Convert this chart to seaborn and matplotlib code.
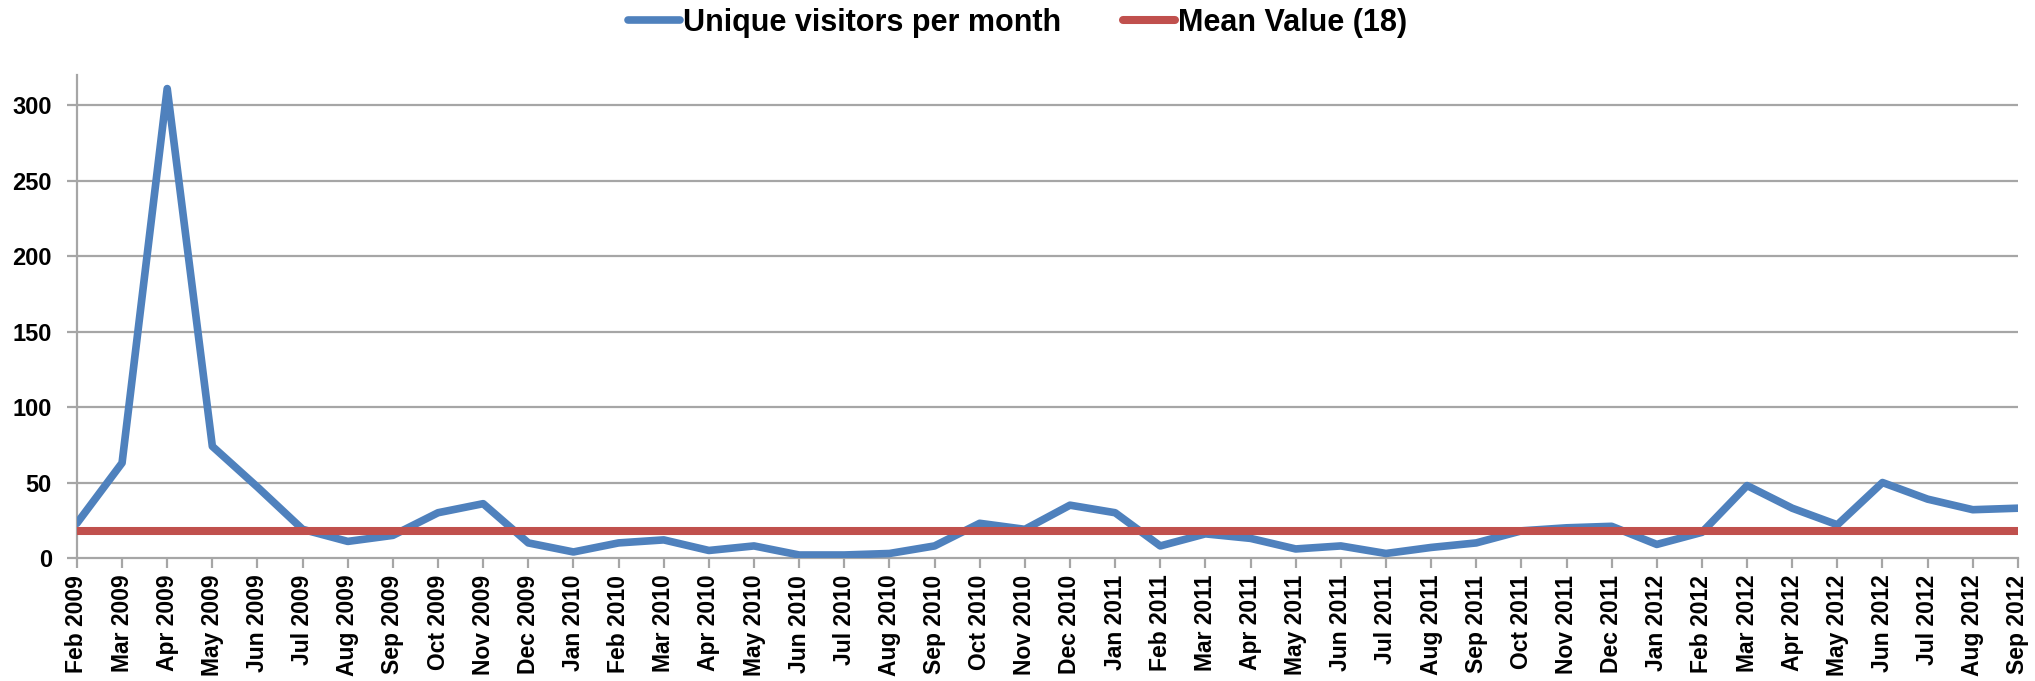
import pandas as pd
import matplotlib.pyplot as plt
import seaborn as sns

# Monthly data, Feb 2009 - Sep 2012
months = [
    "Feb 2009", "Mar 2009", "Apr 2009", "May 2009", "Jun 2009", "Jul 2009",
    "Aug 2009", "Sep 2009", "Oct 2009", "Nov 2009", "Dec 2009",
    "Jan 2010", "Feb 2010", "Mar 2010", "Apr 2010", "May 2010", "Jun 2010",
    "Jul 2010", "Aug 2010", "Sep 2010", "Oct 2010", "Nov 2010", "Dec 2010",
    "Jan 2011", "Feb 2011", "Mar 2011", "Apr 2011", "May 2011", "Jun 2011",
    "Jul 2011", "Aug 2011", "Sep 2011", "Oct 2011", "Nov 2011", "Dec 2011",
    "Jan 2012", "Feb 2012", "Mar 2012", "Apr 2012", "May 2012", "Jun 2012",
    "Jul 2012", "Aug 2012", "Sep 2012",
]
visitors = [
    23, 63, 311, 74, 47, 19, 11, 15, 30, 36, 10,
    4, 10, 12, 5, 8, 2, 2, 3, 8, 23, 19, 35,
    30, 8, 16, 13, 6, 8, 3, 7, 10, 18, 20, 21,
    9, 17, 48, 33, 22, 50, 39, 32, 33,
]
mean_value = 18
y_ticks = [0, 50, 100, 150, 200, 250, 300]

df = pd.DataFrame({"pos": range(len(months)), "month": months, "visitors": visitors})

sns.set_style("white")
plt.rcParams["font.family"] = ["Liberation Sans", "DejaVu Sans"]
plt.rcParams["text.color"] = "black"

fig = plt.figure(figsize=(20.35, 6.81), dpi=100)
ax = fig.add_axes([0.0378, 0.1806, 0.9538, 0.7093])

grid_col = "#A6A6A6"
sns.lineplot(data=df, x="pos", y="visitors", ax=ax, color="#4F81BD", linewidth=5.5,
             label="Unique visitors per month", zorder=3)
ax.axhline(mean_value, color="#C0504D", linewidth=5.8, zorder=4,
           label=f"Mean Value ({mean_value})")

ax.set_xlim(0, len(months) - 1)
ax.set_ylim(0, 320)
ax.set_yticks(y_ticks)
ax.set_xticks(df["pos"])
ax.set_xticklabels(months, rotation=90, fontsize=16.5, fontweight="bold", color="black")
ax.set_yticklabels([str(v) for v in y_ticks], fontsize=17, fontweight="bold", color="black")
ax.set_xlabel("")
ax.set_ylabel("")

for y in y_ticks[1:]:
    ax.axhline(y, color=grid_col, linewidth=1.6, zorder=1)

for side in ["top", "right"]:
    ax.spines[side].set_visible(False)
for side in ["left", "bottom"]:
    ax.spines[side].set_color(grid_col)
    ax.spines[side].set_linewidth(1.6)
ax.tick_params(axis="both", direction="out", length=7, width=1.6, color=grid_col,
               left=True, bottom=True)
ax.tick_params(axis="x", pad=5)
ax.tick_params(axis="y", pad=11)

ax.legend(loc="center", bbox_to_anchor=(0.5, 0.966), bbox_transform=fig.transFigure,
          ncol=2, frameon=False, prop={"size": 22, "weight": "bold"},
          handlelength=1.7, handletextpad=0.1, columnspacing=2.0)

plt.savefig("out.png", dpi=100)
